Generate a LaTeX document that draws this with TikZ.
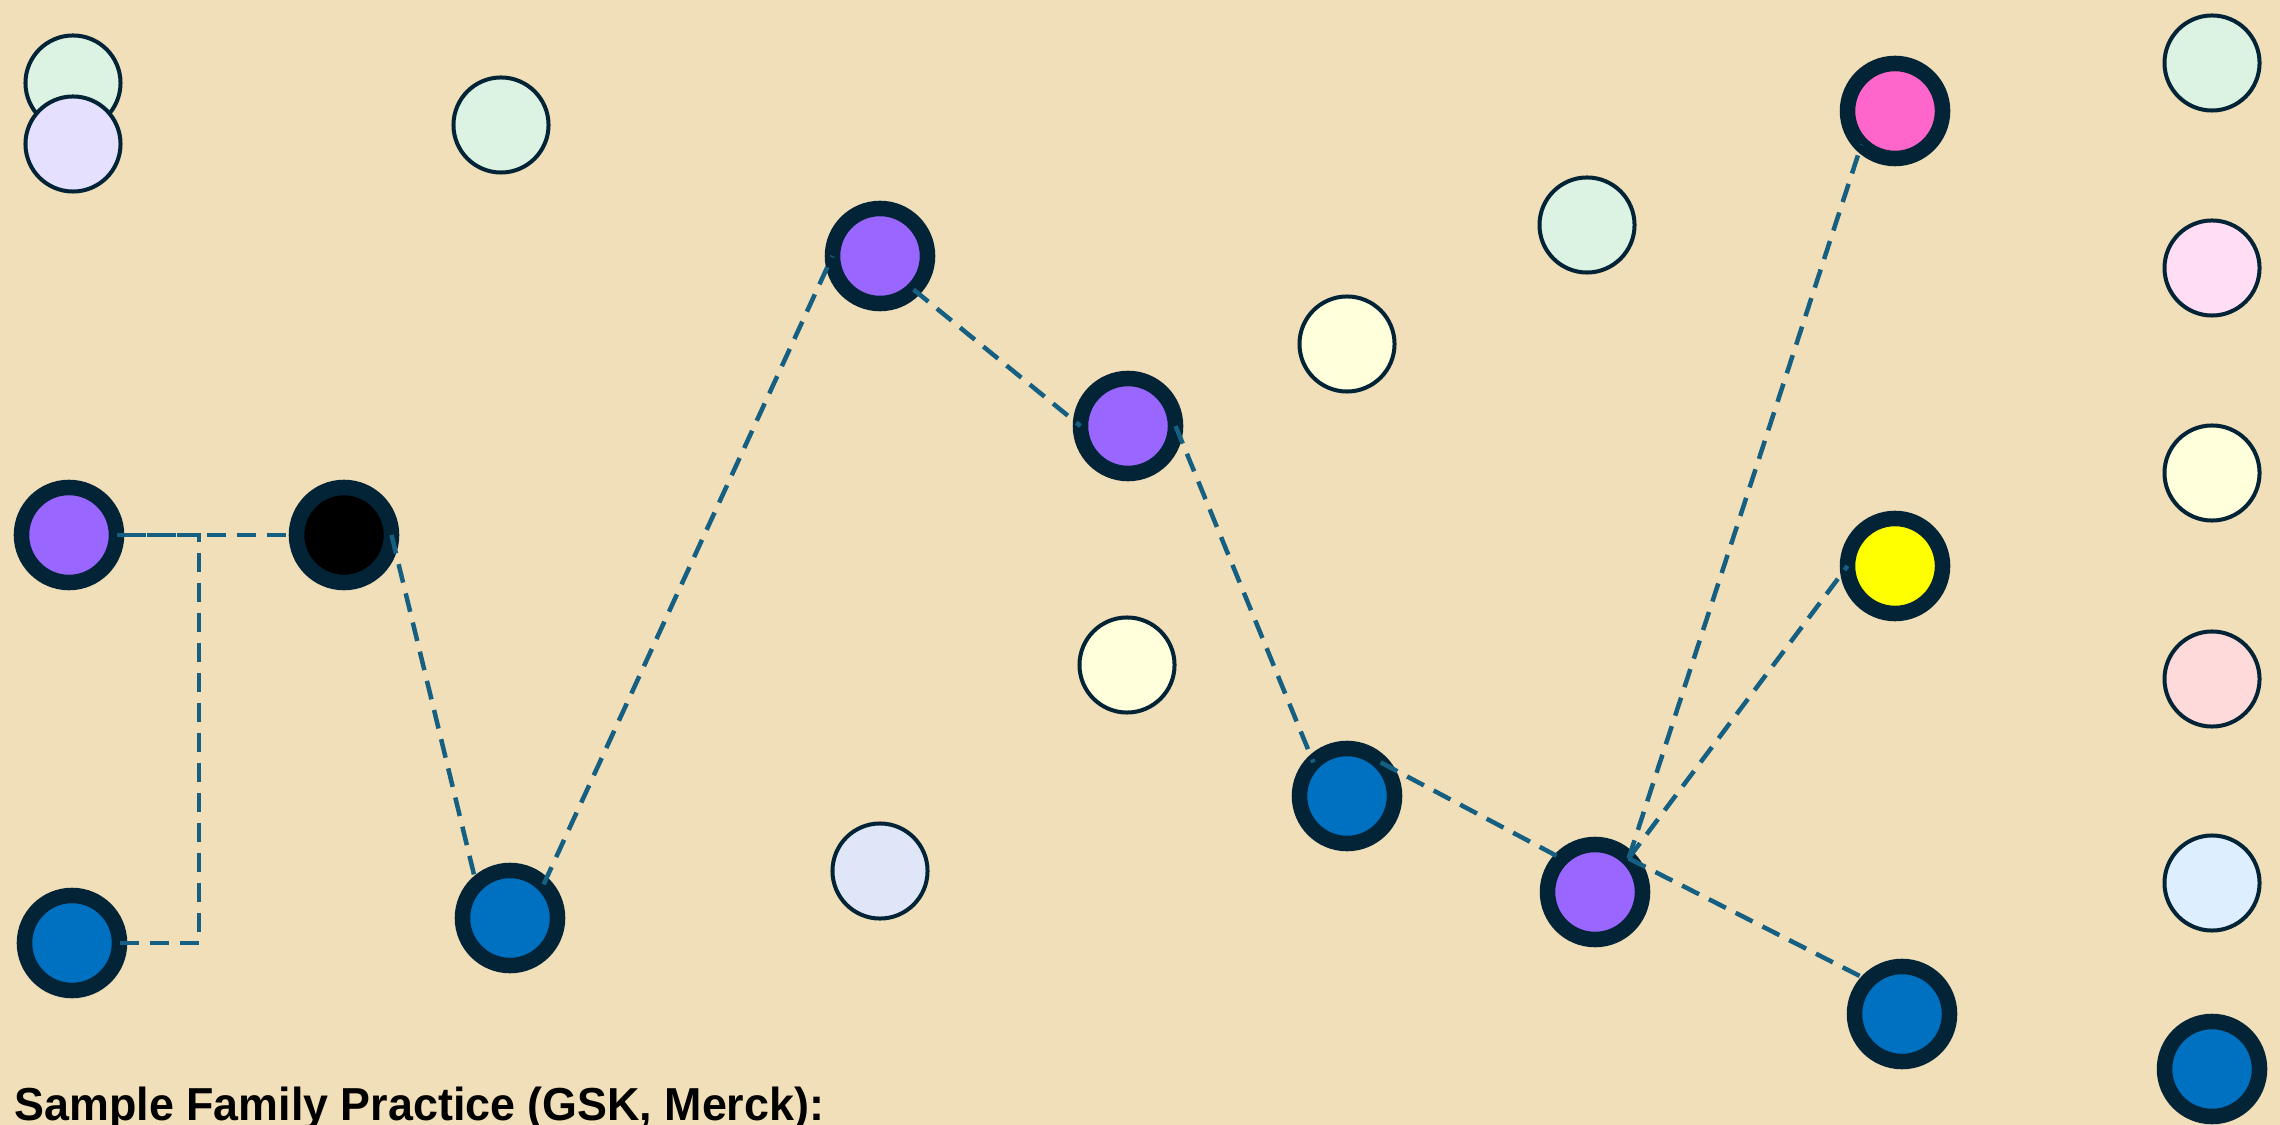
\documentclass[tikz,border=0pt]{standalone}
\usepackage{graphicx}
\usepackage{fontspec}
\setmainfont{Liberation Sans}
\definecolor{bgc}{RGB}{240,223,185}
\definecolor{rim}{RGB}{3,36,54}
\definecolor{conn}{RGB}{21,96,130}
\definecolor{cblue}{RGB}{0,112,192}
\definecolor{cpurple}{RGB}{153,102,255}
\definecolor{cpink}{RGB}{255,102,204}
\definecolor{cyellow}{RGB}{255,255,0}
\definecolor{lgreen}{RGB}{220,242,226}
\definecolor{llav}{RGB}{230,224,255}
\definecolor{lyellow}{RGB}{255,255,220}
\definecolor{lpink}{RGB}{255,221,245}
\definecolor{lred}{RGB}{255,218,218}
\definecolor{lblue}{RGB}{221,238,255}
\definecolor{lbluelav}{RGB}{222,230,248}
\tikzset{
  dot/.style={circle, minimum size=0.95cm, inner sep=0pt, outer sep=0pt, draw=rim},
  thin/.style={dot, line width=0.04cm, fill=#1},
  thick/.style={dot, line width=0.155cm, fill=#1},
  link/.style={draw=conn, line width=0.045cm, dash pattern=on 0.19cm off 0.11cm}
}
\begin{document}
\begin{tikzpicture}[x=0.01cm, y=-0.01cm]
\fill[bgc] (0,0) rectangle (2280,1125);
\useasboundingbox (0,0) rectangle (2280,1125);

% pale circles
\node[thin=lgreen] (lg1) at (73,83) {};
\node[thin=llav] (lav) at (73,144) {};
\node[thin=lgreen] (lg2) at (501,125) {};
\node[thin=lgreen] (lg3) at (1587,225) {};
\node[thin=lyellow] (ly1) at (1347,344) {};
\node[thin=lyellow] (ly2) at (1127,665) {};
\node[thin=lbluelav] (lb1) at (880,871) {};
\node[thin=lgreen] (rg) at (2212,63) {};
\node[thin=lpink] (rp) at (2212,268) {};
\node[thin=lyellow] (ry) at (2212,473) {};
\node[thin=lred] (rr) at (2212,679) {};
\node[thin=lblue] (rb) at (2212,883) {};
\node[thick=cblue] (rB) at (2212,1069) {};

% strong circles
\node[thick=cpurple] (pL) at (69,535) {};
\node[thick=black] (blk) at (344,535) {};
\node[thick=cblue] (bL) at (72,943) {};
\node[thick=cblue] (b2) at (510,918) {};
\node[thick=cpurple] (pT) at (880,256) {};
\node[thick=cpurple] (pM) at (1128,426) {};
\node[thick=cblue] (b3) at (1347,796) {};
\node[thick=cpurple] (pLo) at (1595,892) {};
\node[thick=cblue] (b4) at (1902,1014) {};
\node[thick=cpink] (pk) at (1895,111) {};
\node[thick=cyellow] (yl) at (1895,566) {};

% connectors
\coordinate (elb) at (199,943);
\draw[link] (pL.east) -- (blk.west);
\draw[link] (bL.east) -- (elb) |- (pL.east);
\draw[link] (blk.east) -- (b2.north west);
\draw[link] (b2.north east) -- (pT.west);
\draw[link] (pT.south east) -- (pM.west);
\draw[link] (pM.east) -- (b3.north west);
\draw[link] (b3.north east) -- (pLo.north west);
\draw[link] (pLo.north east) -- (b4.north west);
\draw[link] (pLo.north east) -- (pk.south west);
\draw[link] (pLo.north east) -- (yl.west);

\node[anchor=base west, inner sep=0pt] (title) at (14,1120)
  {\resizebox{8.09cm}{0.335cm}{\bfseries Sample Family Practice (GSK, Merck):}};
\end{tikzpicture}
\end{document}
